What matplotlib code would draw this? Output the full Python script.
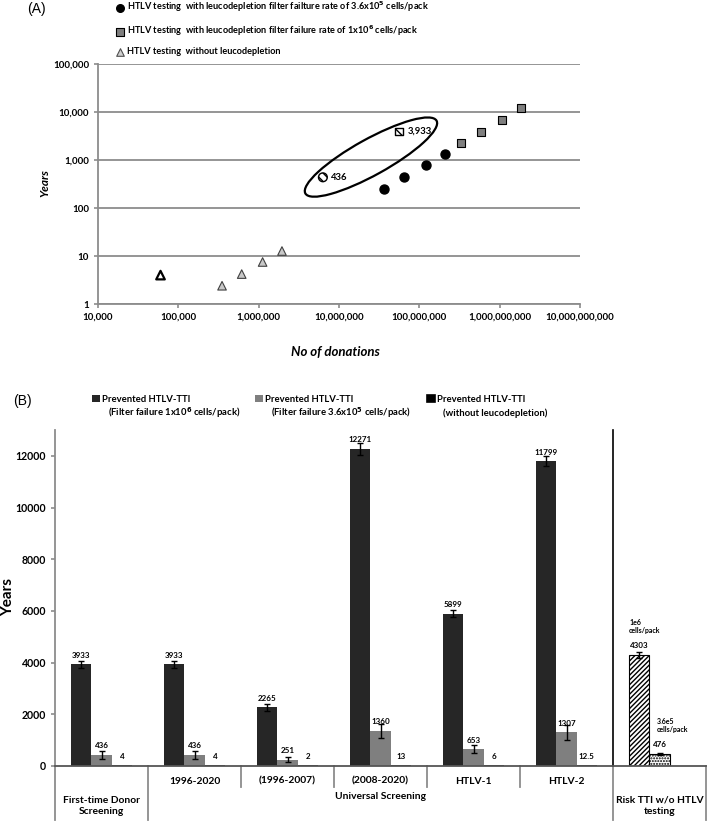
import matplotlib
matplotlib.use('Agg')
import matplotlib.pyplot as plt
import matplotlib.transforms as mtransforms
from matplotlib.patches import Ellipse
from matplotlib.ticker import FuncFormatter, NullLocator
import numpy as np

# ---- Panel A data ----
tri_x = [60000, 350000, 615000, 1120000, 1950000]
tri_y = [4, 2.4, 4.2, 7.5, 12.7]
circ_x = [36e6, 65e6, 120e6, 210e6]
circ_y = [250, 445, 790, 1340]
sq_x = [330e6, 590e6, 1.07e9, 1.85e9]
sq_y = [2250, 3800, 6800, 12000]
hl_x = [6.3e6, 56e6]
hl_y = [436, 3933]
hl_labels = ['436', '3,933']

legend_a_labels = [
    r'HTLV testing  with leucodepletion filter failture rate of 3.6x10$^{\mathbf{5}}$ cells/pack',
    r'HTLV testing  with leucodepletion filter failure rate of 1x10$^{\mathbf{6}}$ cells/pack',
    'HTLV testing  without leucodepletion',
]

# ---- Panel B data ----
period_labels = ['', '1996-2020', '(1996-2007)', '(2008-2020)', 'HTLV-1', 'HTLV-2', '']
group_labels = ['First-time Donor\nScreening', 'Universal Screening', 'Risk TTI w/o HTLV\ntesting']
filter_1e6 = [3933, 3933, 2265, 12271, 5899, 11799]
filter_1e6_err = [140, 140, 120, 220, 150, 200]
filter_36e5 = [436, 436, 251, 1360, 653, 1307]
filter_36e5_err = [150, 150, 110, 270, 160, 290]
no_leuco = [4, 4, 2, 13, 6, 12.5]
risk_vals = [4303, 476]
risk_err = [120, 40]
risk_notes = ['1e6\ncells/pack', '3.6e5\ncells/pack']

FONT = ['Lato', 'DejaVu Sans']
plt.rcParams['font.family'] = FONT
plt.rcParams['hatch.linewidth'] = 1.0
plt.rcParams['mathtext.fontset'] = 'dejavusans'

W, H = 709, 823
fig = plt.figure(figsize=(W / 100, H / 100), dpi=100)
fig.patch.set_facecolor('white')

GRID = '#8c8c8c'

# ================= Panel A =================
axA = fig.add_axes([98 / W, 1 - 304 / H, 482 / W, 240 / H])
axA.set_xscale('log')
axA.set_yscale('log')
axA.set_xlim(1e4, 1e10)
axA.set_ylim(1, 1e5)
axA.xaxis.set_minor_locator(NullLocator())
axA.yaxis.set_minor_locator(NullLocator())
axA.set_xticks([10.0 ** k for k in range(4, 11)])
axA.set_yticks([10.0 ** k for k in range(0, 6)])
fmt = FuncFormatter(lambda v, p: f'{int(round(v)):,}')
axA.xaxis.set_major_formatter(fmt)
axA.yaxis.set_major_formatter(fmt)
axA.grid(True, axis='y', color=GRID, linewidth=1.3)
axA.set_axisbelow(True)
for s in ['top', 'right']:
    axA.spines[s].set_visible(False)
for s in ['left', 'bottom']:
    axA.spines[s].set_color(GRID)
    axA.spines[s].set_linewidth(1.3)
axA.tick_params(axis='both', colors=GRID, length=3, width=1.2, labelsize=7, labelcolor='black')
for lab in axA.get_xticklabels() + axA.get_yticklabels():
    lab.set_fontweight('bold')

tri_face = ['white'] + ['#c8c8c8'] * (len(tri_x) - 1)
tri_edge = ['black'] + ['#404040'] * (len(tri_x) - 1)
tri_lw = [1.6] + [0.8] * (len(tri_x) - 1)
h_tri = axA.scatter(tri_x, tri_y, marker='^', s=38, facecolors=tri_face,
                    edgecolors=tri_edge, linewidths=tri_lw, zorder=3)
h_circ = axA.scatter(circ_x, circ_y, marker='o', s=42, color='black', zorder=3)
h_sq = axA.scatter(sq_x, sq_y, marker='s', s=30, facecolor='#7f7f7f',
                   edgecolor='black', linewidths=0.8, zorder=3)
axA.scatter(hl_x[:1], hl_y[:1], marker='o', s=40, facecolor='white',
            edgecolor='black', hatch='\\\\\\\\', linewidths=1.0, zorder=3)
axA.scatter(hl_x[1:], hl_y[1:], marker='s', s=32, facecolor='white',
            edgecolor='black', hatch='\\\\\\\\', linewidths=1.0, zorder=3)
for xv, yv, t in zip(hl_x, hl_y, hl_labels):
    axA.annotate(t, (xv, yv), xytext=(6, 0), textcoords='offset points',
                 fontsize=6.8, fontweight='bold', va='center', ha='left')

# ellipse around the highlighted points (drawn in inches, centred in data space)
ell_trans = fig.dpi_scale_trans + mtransforms.ScaledTranslation(2.5e7, 1150, axA.transData)
axA.add_patch(Ellipse((0, 0), 1.50, 0.36, angle=29, fill=False, edgecolor='black',
                      linewidth=1.6, transform=ell_trans, clip_on=False))

legA = axA.legend([h_circ, h_sq, h_tri], legend_a_labels, loc='upper left',
                  bbox_to_anchor=(115 / W, 1 - 0 / H), bbox_transform=fig.transFigure,
                  frameon=False, borderpad=0, borderaxespad=0, handlelength=1.0,
                  handletextpad=0.3, labelspacing=1.0, scatterpoints=1,
                  prop={'family': FONT, 'weight': 'bold', 'size': 6.6})
for hnd, sz in zip(legA.legend_handles, [30, 26, 30]):
    hnd.set_sizes([sz])
legA.legend_handles[2].set_facecolor('#d0d0d0')
legA.legend_handles[2].set_edgecolor('#505050')
legA.legend_handles[2].set_linewidth(0.8)

fig.text(45 / W, 1 - 183 / H, 'Years', rotation=90, fontsize=8.5, fontweight='bold',
         fontstyle='italic', ha='center', va='center')
fig.text(335 / W, 1 - 352 / H, 'No of donations', fontsize=9.5, fontweight='bold',
         fontstyle='italic', ha='center', va='center')
fig.text(27 / W, 1 - 9 / H, '(A)', fontsize=10, family='Liberation Sans', ha='left', va='center')
fig.text(13 / W, 1 - 401 / H, '(B)', fontsize=10, family='Liberation Sans', ha='left', va='center')

# ================= Panel B =================
axB = fig.add_axes([55 / W, 1 - 766 / H, 651 / W, 336 / H])
x = np.arange(len(filter_1e6))
w = 0.218
ekw = dict(ecolor='black', elinewidth=1.0, capsize=2.5, capthick=1.0)
b1 = axB.bar(x - w, filter_1e6, w, color='#262626', yerr=filter_1e6_err, error_kw=ekw, zorder=2)
b2 = axB.bar(x, filter_36e5, w, color='#7f7f7f', yerr=filter_36e5_err, error_kw=ekw, zorder=2)
b3 = axB.bar(x + w, no_leuco, w, color='black', edgecolor='black', linewidth=1.2, zorder=2)

rx = len(filter_1e6)
r1 = axB.bar(rx - w, risk_vals[0], w, facecolor='white', edgecolor='black', hatch='///////',
             linewidth=0.8, yerr=risk_err[0], error_kw=ekw, zorder=2)
r2 = axB.bar(rx, risk_vals[1], w, facecolor='white', edgecolor='black', hatch='......',
             linewidth=0.8, yerr=risk_err[1], error_kw=ekw, zorder=2)

for bars, vals in [(b1, filter_1e6), (b2, filter_36e5), (b3, no_leuco),
                   (r1, risk_vals[:1]), (r2, risk_vals[1:])]:
    for rect, v in zip(bars, vals):
        axB.annotate(f'{v:g}', (rect.get_x() + rect.get_width() / 2, v),
                     xytext=(0, 6.5), textcoords='offset points', ha='center',
                     va='center', fontsize=5.8, fontweight='bold')

for rect, v, note, dx in zip([r1[0], r2[0]], risk_vals, risk_notes, [0, 5]):
    axB.annotate(note, (rect.get_x(), v), xytext=(dx, 20.5), textcoords='offset points',
                 ha='left', va='center', fontsize=5.0, fontweight='bold', linespacing=1.2)

axB.set_xlim(-0.5, 6.5)
axB.set_ylim(0, 13000)
axB.set_yticks(np.arange(0, 12001, 2000))
axB.set_xticks([])
for s in ['top', 'right']:
    axB.spines[s].set_visible(False)
axB.spines['left'].set_color(GRID)
axB.spines['left'].set_linewidth(1.3)
axB.spines['bottom'].set_color('#555555')
axB.spines['bottom'].set_linewidth(1.3)
axB.tick_params(axis='y', colors=GRID, length=3, width=1.2, labelsize=7.6, labelcolor='black')
for lab in axB.get_yticklabels():
    lab.set_fontweight('bold')

bt = mtransforms.blended_transform_factory(axB.transData, axB.transAxes)
for xv in [-0.5, 0.5, 5.5, 6.5]:
    axB.plot([xv, xv], [0, -0.161], color=GRID, lw=1.3, transform=bt, clip_on=False)
for xv in [1.5, 2.5, 3.5, 4.5]:
    axB.plot([xv, xv], [0, -0.0625], color=GRID, lw=1.3, transform=bt, clip_on=False)
axB.plot([5.5, 5.5], [0, 1], color='black', lw=1.2, transform=bt, clip_on=False)

for i, lab in enumerate(period_labels):
    if lab:
        axB.text(i, -0.045, lab, transform=bt, ha='center', va='center',
                 fontsize=7.4, fontweight='bold')
for xv, yv, lab in zip([0, 3, 6], [-0.119, -0.09, -0.119], group_labels):
    axB.text(xv, yv, lab, transform=bt, ha='center', va='center', fontsize=7.4,
             fontweight='bold', linespacing=1.3)

fig.text(8 / W, 1 - 597 / H, 'Years', rotation=90, fontsize=11, fontweight='bold',
         ha='center', va='center')

# legend for panel B: one entry per column, second line as separate text
leg_first = 'Prevented HTLV-TTI'
leg_second = [r'(Filter failure 1x10$^{\mathbf{6}}$ cells/pack)',
              r'(Filter failure 3.6x10$^{\mathbf{5}}$ cells/pack)',
              '(without leucodepletion)']
leg_x = [92, 255, 427]
for handle, lx, second in zip([b1, b2, b3], leg_x, leg_second):
    fig.legend([handle], [leg_first], loc='upper left',
               bbox_to_anchor=(lx / W, 1 - 395 / H), frameon=False, borderpad=0,
               borderaxespad=0, handlelength=0.8, handleheight=0.8, handletextpad=0.3,
               prop={'family': FONT, 'weight': 'bold', 'size': 6.8})
    fig.text((lx + 16) / W, 1 - 413 / H, second, fontsize=6.8, fontweight='bold',
             ha='left', va='center')

fig.savefig('out.png', dpi=100, facecolor='white')
